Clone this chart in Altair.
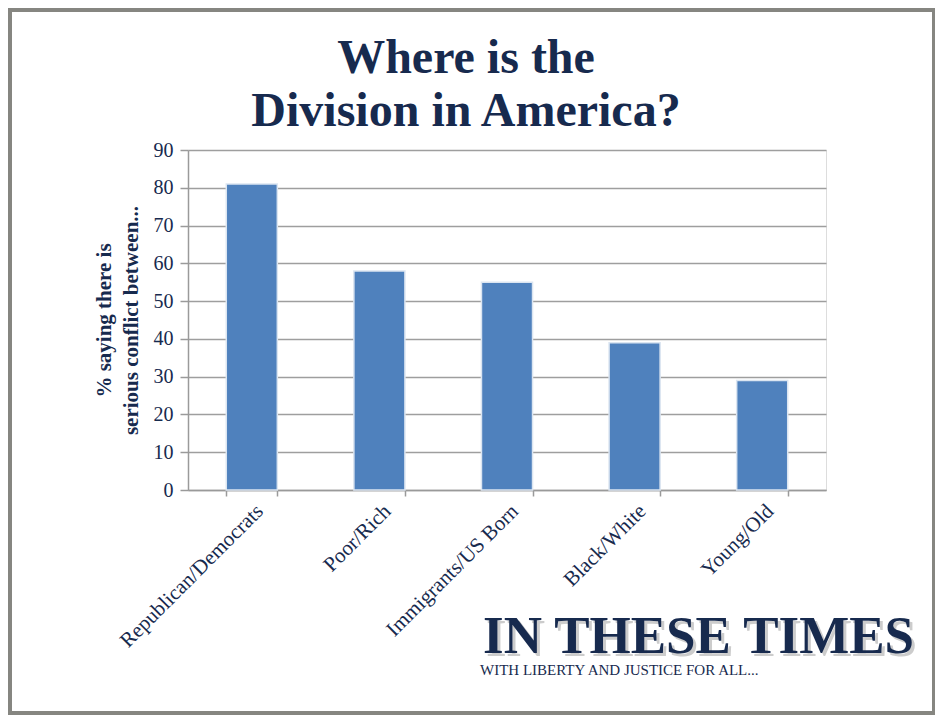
import altair as alt
import pandas as pd

categories = ["Republican/Democrats", "Poor/Rich", "Immigrants/US Born", "Black/White", "Young/Old"]
values = [81, 58, 55, 39, 29]
y_ticks = [0, 10, 20, 30, 40, 50, 60, 70, 80, 90]
title_lines = ["Where is the", "Division in America?"]
y_title_lines = ["% saying there is", "serious conflict between..."]
logo_text = ["IN THESE TIMES"]
tagline_text = ["WITH LIBERTY AND JUSTICE FOR ALL..."]

NAVY = "#172a4e"
SERIF = "Liberation Serif"
W, H = 638, 340

df = pd.DataFrame({"category": categories, "value": values})

bars = alt.Chart(df).mark_bar(
    color="#4f81bd", stroke="#dbe5f1", strokeWidth=1.5
).encode(
    x=alt.X("category:N", sort=categories,
            scale=alt.Scale(paddingInner=0.6, paddingOuter=0.3),
            axis=alt.Axis(title=None, labelAngle=-45, labelFont=SERIF, labelFontSize=21,
                          labelColor=NAVY, labelLimit=400, tickBand="extent", tickSize=6,
                          tickColor="#9a9a9a", tickWidth=1.5, domainColor="#9a9a9a",
                          domainWidth=1.5, labelPadding=4, grid=False)),
    y=alt.Y("value:Q", scale=alt.Scale(domain=[0, 90]),
            axis=alt.Axis(values=y_ticks, title=y_title_lines, titleFont=SERIF,
                          titleFontSize=21, titleFontWeight="bold", titleColor=NAVY,
                          titlePadding=12, titleLineHeight=27,
                          labelFont=SERIF, labelFontSize=20, labelColor=NAVY,
                          labelPadding=7, tickSize=8, tickColor="#9a9a9a", tickWidth=1.5,
                          domainColor="#9a9a9a", domainWidth=1.5,
                          gridColor="#9e9e9e", gridWidth=1.5)),
)

one = alt.Data(values=[{"k": 1}])

title = alt.Chart(pd.DataFrame({"t": ["\n".join(title_lines)]})).mark_text(
    font=SERIF, fontSize=48, fontWeight="bold", color=NAVY, align="center",
    baseline="alphabetic", lineBreak="\n", lineHeight=53
).encode(text="t:N", x=alt.value(278), y=alt.value(-77))

logo_shadow = alt.Chart(pd.DataFrame({"t": logo_text})).mark_text(
    font=SERIF, fontSize=53, fontWeight="bold", color="#9a9a9a", opacity=0.5,
    align="left", baseline="alphabetic"
).encode(text="t:N", x=alt.value(298), y=alt.value(506))

logo = alt.Chart(pd.DataFrame({"t": logo_text})).mark_text(
    font=SERIF, fontSize=53, fontWeight="bold", color=NAVY,
    align="left", baseline="alphabetic"
).encode(text="t:N", x=alt.value(295), y=alt.value(503))

tagline = alt.Chart(pd.DataFrame({"t": tagline_text})).mark_text(
    font=SERIF, fontSize=15, color=NAVY, align="left", baseline="alphabetic"
).encode(text="t:N", x=alt.value(292), y=alt.value(525))

frame_color = "#868681"
frame_left = alt.Chart(one).mark_rect(color=frame_color).encode(
    x=alt.value(-180), x2=alt.value(-176), y=alt.value(-142), y2=alt.value(565))
frame_right = alt.Chart(one).mark_rect(color=frame_color).encode(
    x=alt.value(744), x2=alt.value(747), y=alt.value(-142), y2=alt.value(565))
frame_top = alt.Chart(one).mark_rect(color=frame_color).encode(
    x=alt.value(-180), x2=alt.value(747), y=alt.value(-142), y2=alt.value(-138))
frame_bottom = alt.Chart(one).mark_rect(color=frame_color).encode(
    x=alt.value(-180), x2=alt.value(747), y=alt.value(561), y2=alt.value(565))

chart = alt.layer(
    bars, title, logo_shadow, logo, tagline, frame_left, frame_right, frame_top, frame_bottom
).properties(
    width=W, height=H,
    autosize=alt.AutoSizeParams(type="none"),
    padding={"left": 180, "top": 142, "right": 109, "bottom": 225},
).configure_view(stroke=None).configure(background="white")

chart.save("out.html", embed_options={"renderer": "svg", "actions": False})
